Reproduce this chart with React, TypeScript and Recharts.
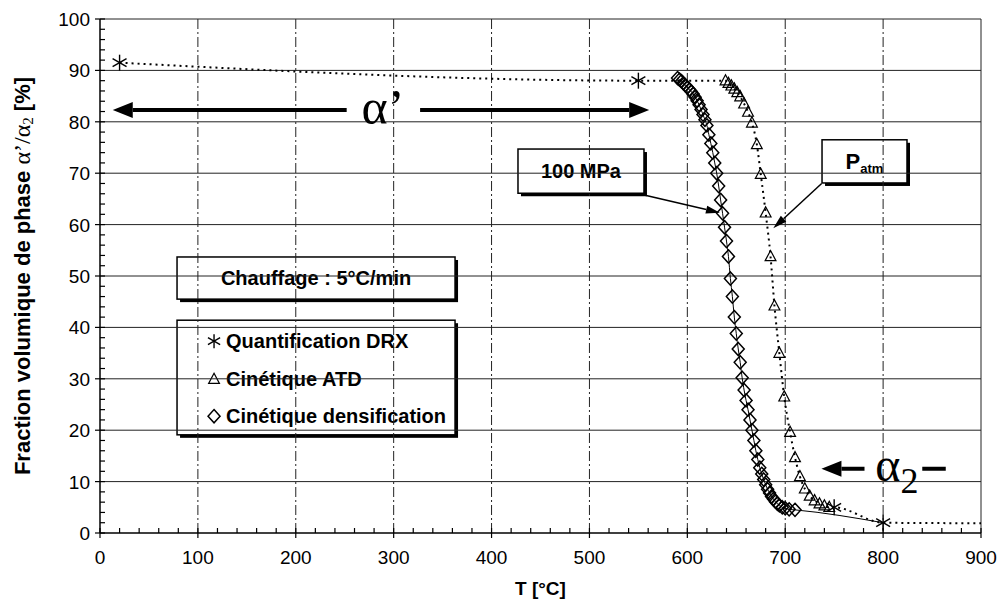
import React from 'react';
import {
    ComposedChart,
    Line,
    ReferenceArea,
    ReferenceDot,
    ReferenceLine,
    Scatter,
    XAxis,
    YAxis,
} from 'recharts';

// tick labels
const xMajor = [0, 100, 200, 300, 400, 500, 600, 700, 800, 900];
const yMajor = [0, 10, 20, 30, 40, 50, 60, 70, 80, 90, 100];
const xTicks = Array.from({ length: 46 }, (_, i) => i * 20);
const yTicks = Array.from({ length: 51 }, (_, i) => i * 2);

// Quantification DRX
const drx = [
    { t: 20, v: 91.5 },
    { t: 550, v: 88 },
    { t: 750, v: 5 },
    { t: 800, v: 2 },
];
const drxTail = [{ t: 900, v: 1.9 }];

// Cinétique ATD
const atd = [
    { t: 639, v: 88.0 },
    { t: 642, v: 87.5 },
    { t: 645, v: 87.0 },
    { t: 648, v: 86.4 },
    { t: 651, v: 85.7 },
    { t: 654, v: 84.9 },
    { t: 658, v: 83.5 },
    { t: 662, v: 81.9 },
    { t: 666, v: 79.8 },
    { t: 671, v: 75.6 },
    { t: 675, v: 69.8 },
    { t: 680, v: 62.3 },
    { t: 685, v: 53.8 },
    { t: 689, v: 44.2 },
    { t: 694, v: 35.0 },
    { t: 699, v: 26.5 },
    { t: 705, v: 19.6 },
    { t: 710, v: 14.7 },
    { t: 715, v: 11.0 },
    { t: 720, v: 8.6 },
    { t: 725, v: 7.2 },
    { t: 730, v: 6.3 },
    { t: 735, v: 5.7 },
    { t: 740, v: 5.3 },
    { t: 745, v: 5.0 },
];

// Cinétique densification (100 MPa)
const densif = [
    { t: 590, v: 88.5 },
    { t: 592, v: 88.2 },
    { t: 594, v: 87.9 },
    { t: 596, v: 87.5 },
    { t: 598, v: 87.1 },
    { t: 600, v: 86.7 },
    { t: 602, v: 86.3 },
    { t: 604, v: 85.9 },
    { t: 606, v: 85.4 },
    { t: 608, v: 84.8 },
    { t: 610, v: 84.1 },
    { t: 612, v: 83.3 },
    { t: 614, v: 82.4 },
    { t: 616, v: 81.4 },
    { t: 618, v: 80.4 },
    { t: 620, v: 79.3 },
    { t: 622, v: 77.5 },
    { t: 624, v: 75.8 },
    { t: 626, v: 74.0 },
    { t: 628, v: 72.0 },
    { t: 630, v: 70.0 },
    { t: 632, v: 67.5 },
    { t: 634, v: 64.8 },
    { t: 636, v: 62.2 },
    { t: 638, v: 59.5 },
    { t: 640, v: 56.8 },
    { t: 642, v: 53.8 },
    { t: 644, v: 49.5 },
    { t: 646, v: 46.0 },
    { t: 648, v: 42.0 },
    { t: 650, v: 38.8 },
    { t: 652, v: 35.8 },
    { t: 654, v: 33.2 },
    { t: 656, v: 30.2 },
    { t: 658, v: 27.8 },
    { t: 660, v: 25.8 },
    { t: 662, v: 24.0 },
    { t: 664, v: 22.0 },
    { t: 666, v: 20.0 },
    { t: 668, v: 18.0 },
    { t: 670, v: 16.0 },
    { t: 672, v: 14.3 },
    { t: 674, v: 12.7 },
    { t: 676, v: 11.5 },
    { t: 678, v: 10.4 },
    { t: 680, v: 9.4 },
    { t: 682, v: 8.5 },
    { t: 684, v: 7.8 },
    { t: 686, v: 7.1 },
    { t: 688, v: 6.6 },
    { t: 690, v: 6.1 },
    { t: 692, v: 5.7 },
    { t: 694, v: 5.4 },
    { t: 697, v: 5.0 },
    { t: 700, v: 4.8 },
    { t: 704, v: 4.6 },
    { t: 710, v: 4.5 },
];

// dotted trend through DRX and ATD, thin solid trend through densification
const dottedTrend = [drx[0], drx[1], ...atd, drx[2], drx[3], ...drxTail];
const solidTrend = [...densif, drx[3]];

const SANS = "'Liberation Sans', Arial, sans-serif";
const SERIF = "'Liberation Serif', 'Times New Roman', serif";

function XTick(props: any) {
    const { x, y, payload } = props;
    const major = payload.value % 100 === 0;
    return (
        <g>
            <line x1={x} x2={x} y1={y - 5} y2={major ? y + 5 : y} stroke="#000" strokeWidth={1.2} />
            {major && (
                <text x={x} y={y + 31} textAnchor="middle" fontFamily={SANS} fontSize={19} fill="#000">
                    {payload.value}
                </text>
            )}
        </g>
    );
}

function YTick(props: any) {
    const { x, y, payload } = props;
    const major = payload.value % 10 === 0;
    return (
        <g>
            <line x1={major ? x - 5 : x} x2={x + 5} y1={y} y2={y} stroke="#000" strokeWidth={1.2} />
            {major && (
                <text x={x - 10} y={y + 7} textAnchor="end" fontFamily={SANS} fontSize={19} fill="#000">
                    {payload.value}
                </text>
            )}
        </g>
    );
}

function YTitle(props: any) {
    const { viewBox } = props;
    const cx = viewBox.x + 22;
    const cy = viewBox.y + viewBox.height / 2;
    return (
        <text
            x={cx}
            y={cy}
            transform={`rotate(-90 ${cx} ${cy})`}
            textAnchor="middle"
            dominantBaseline="central"
            fontFamily={SANS}
            fontWeight="bold"
            fontSize={22}
            fill="#000"
        >
            Fraction volumique de phase{' '}
            <tspan fontFamily={SERIF} fontWeight="normal" fontSize={24}>α’/α</tspan>
            <tspan fontFamily={SERIF} fontWeight="normal" fontSize={15} dy={6}>2</tspan>
            <tspan dy={-6}> [%]</tspan>
        </text>
    );
}

function XTitle(props: any) {
    const { viewBox } = props;
    return (
        <text
            x={viewBox.x + viewBox.width / 2}
            y={viewBox.y + 62}
            textAnchor="middle"
            fontFamily={SANS}
            fontWeight="bold"
            fontSize={19}
            fill="#000"
        >
            T [°C]
        </text>
    );
}

function Asterisk({ cx, cy, r = 8 }: any) {
    const d = r * 0.87;
    return (
        <g stroke="#000" strokeWidth={1.4}>
            <line x1={cx} y1={cy - r} x2={cx} y2={cy + r} />
            <line x1={cx - d} y1={cy - r / 2} x2={cx + d} y2={cy + r / 2} />
            <line x1={cx - d} y1={cy + r / 2} x2={cx + d} y2={cy - r / 2} />
        </g>
    );
}

function Triangle({ cx, cy, r = 6 }: any) {
    return (
        <polygon
            points={`${cx},${cy - r} ${cx - r * 0.9},${cy + r * 0.7} ${cx + r * 0.9},${cy + r * 0.7}`}
            fill="none"
            stroke="#000"
            strokeWidth={1.2}
        />
    );
}

function Diamond({ cx, cy, r = 6 }: any) {
    return (
        <polygon
            points={`${cx},${cy - r * 1.1} ${cx + r},${cy} ${cx},${cy + r * 1.1} ${cx - r},${cy}`}
            fill="none"
            stroke="#000"
            strokeWidth={1.5}
        />
    );
}

function arrowShape(sw: number, hl: number, hw: number) {
    return (p: any) => {
        const { x1, y1, x2, y2 } = p;
        const dx = x2 - x1;
        const dy = y2 - y1;
        const len = Math.hypot(dx, dy) || 1;
        const ux = dx / len;
        const uy = dy / len;
        const bx = x2 - ux * hl;
        const by = y2 - uy * hl;
        const nx = -uy * (hw / 2);
        const ny = ux * (hw / 2);
        return (
            <g>
                <line x1={x1} y1={y1} x2={bx} y2={by} stroke="#000" strokeWidth={sw} />
                <polygon points={`${x2},${y2} ${bx + nx},${by + ny} ${bx - nx},${by - ny}`} fill="#000" />
            </g>
        );
    };
}

function boxShape(content: (x: number, y: number, w: number, h: number) => React.ReactNode) {
    return (p: any) => {
        const { x, y, width, height } = p;
        return (
            <g>
                <rect x={x + 3} y={y + 3} width={width} height={height} fill="#000" />
                <rect x={x} y={y} width={width} height={height} fill="#fff" stroke="#000" strokeWidth={1.5} />
                {content(x, y, width, height)}
            </g>
        );
    };
}

const boldText = { fontFamily: SANS, fontWeight: 'bold' as const, fill: '#000' };

export default function App() {
    return (
        <div style={{ position: 'absolute', left: 0, top: 0, background: '#fff' }}>
            <ComposedChart width={1000} height={609} margin={{ top: 19, right: 19, left: 0, bottom: 0 }}>
                <XAxis
                    type="number"
                    dataKey="t"
                    domain={[0, 900]}
                    ticks={xTicks}
                    interval={0}
                    tickSize={0}
                    tickMargin={0}
                    tickLine={false}
                    tick={<XTick />}
                    axisLine={{ stroke: '#000', strokeWidth: 1.5 }}
                    height={76}
                    allowDataOverflow
                    label={<XTitle />}
                />
                <YAxis
                    type="number"
                    dataKey="v"
                    domain={[0, 100]}
                    ticks={yTicks}
                    interval={0}
                    tickSize={0}
                    tickMargin={0}
                    tickLine={false}
                    tick={<YTick />}
                    axisLine={{ stroke: '#000', strokeWidth: 1.5 }}
                    width={100}
                    allowDataOverflow
                    label={<YTitle />}
                />

                {xMajor.slice(1).map((t) => (
                    <ReferenceLine
                        key={`gx${t}`}
                        x={t}
                        stroke="#222"
                        strokeWidth={1}
                        strokeDasharray={t === 900 ? undefined : '10 3 2 3'}
                    />
                ))}
                {yMajor.slice(1).map((v) => (
                    <ReferenceLine key={`gy${v}`} y={v} stroke="#222" strokeWidth={1} />
                ))}

                <Line
                    data={dottedTrend}
                    dataKey="v"
                    type="monotone"
                    stroke="#000"
                    strokeWidth={2}
                    strokeDasharray="2 4"
                    dot={false}
                    isAnimationActive={false}
                />
                <Line
                    data={solidTrend}
                    dataKey="v"
                    type="monotone"
                    stroke="#000"
                    strokeWidth={1}
                    dot={false}
                    isAnimationActive={false}
                />
                <Scatter
                    data={atd}
                    dataKey="v"
                    shape={(p: any) => <Triangle cx={p.cx} cy={p.cy} />}
                    isAnimationActive={false}
                />
                <Scatter
                    data={densif}
                    dataKey="v"
                    shape={(p: any) => <Diamond cx={p.cx} cy={p.cy} />}
                    isAnimationActive={false}
                />
                <Scatter
                    data={drx}
                    dataKey="v"
                    shape={(p: any) => <Asterisk cx={p.cx} cy={p.cy} />}
                    isAnimationActive={false}
                />

                {/* α' domain */}
                <ReferenceLine segment={[{ x: 252, y: 82.3 }, { x: 13, y: 82.3 }]} shape={arrowShape(4, 20, 16)} />
                <ReferenceLine segment={[{ x: 327, y: 82.3 }, { x: 561, y: 82.3 }]} shape={arrowShape(4, 20, 16)} />
                <ReferenceDot
                    x={289}
                    y={82.3}
                    r={0}
                    shape={(p: any) => (
                        <text x={p.cx} y={p.cy + 14} textAnchor="middle" fontFamily={SERIF} fontSize={50} fill="#000">
                            α’
                        </text>
                    )}
                />

                {/* α2 domain */}
                <ReferenceLine segment={[{ x: 781, y: 12.5 }, { x: 737, y: 12.5 }]} shape={arrowShape(4, 20, 16)} />
                <ReferenceLine segment={[{ x: 840, y: 12.5 }, { x: 864, y: 12.5 }]} stroke="#000" strokeWidth={4} />
                <ReferenceDot
                    x={792}
                    y={12.5}
                    r={0}
                    shape={(p: any) => (
                        <text x={p.cx} y={p.cy + 12} fontFamily={SERIF} fontSize={48} fill="#000">
                            α<tspan fontSize={36} dy={12}>2</tspan>
                        </text>
                    )}
                />

                {/* pressure labels */}
                <ReferenceLine segment={[{ x: 554.7, y: 65.8 }, { x: 633.3, y: 62.3 }]} shape={arrowShape(1.5, 14, 8)} />
                <ReferenceLine segment={[{ x: 737.2, y: 68 }, { x: 687.8, y: 59.3 }]} shape={arrowShape(1.5, 14, 8)} />
                <ReferenceArea
                    x1={427}
                    x2={555.7}
                    y1={66.1}
                    y2={74.7}
                    ifOverflow="visible"
                    shape={boxShape((x, y, w, h) => (
                        <text x={x + w / 2} y={y + h / 2 + 7} textAnchor="middle" fontSize={20} {...boldText}>
                            100 MPa
                        </text>
                    ))}
                />
                <ReferenceArea
                    x1={737.6}
                    x2={824.4}
                    y1={68.1}
                    y2={76.5}
                    ifOverflow="visible"
                    shape={boxShape((x, y, w, h) => (
                        <text x={x + w / 2} y={y + h / 2 + 8} textAnchor="middle" fontSize={22} {...boldText}>
                            P<tspan fontSize={13} dy={4}>atm</tspan>
                        </text>
                    ))}
                />

                {/* heating rate and legend */}
                <ReferenceArea
                    x1={78.7}
                    x2={362.7}
                    y1={45.5}
                    y2={53.7}
                    ifOverflow="visible"
                    shape={boxShape((x, y, w, h) => (
                        <text x={x + w / 2} y={y + h / 2 + 7} textAnchor="middle" fontSize={20} {...boldText}>
                            Chauffage : 5°C/min
                        </text>
                    ))}
                />
                <ReferenceArea
                    x1={78.7}
                    x2={362.7}
                    y1={19.1}
                    y2={41.4}
                    ifOverflow="visible"
                    shape={boxShape((x, y) => (
                        <g>
                            <Asterisk cx={x + 37} cy={y + 21} r={7} />
                            <text x={x + 49} y={y + 28} fontSize={20} {...boldText}>Quantification DRX</text>
                            <Triangle cx={x + 37} cy={y + 59} r={6} />
                            <text x={x + 49} y={y + 66} fontSize={20} {...boldText}>Cinétique ATD</text>
                            <Diamond cx={x + 37} cy={y + 96} r={6} />
                            <text x={x + 49} y={y + 103} fontSize={20} {...boldText}>Cinétique densification</text>
                        </g>
                    ))}
                />
            </ComposedChart>
        </div>
    );
}
